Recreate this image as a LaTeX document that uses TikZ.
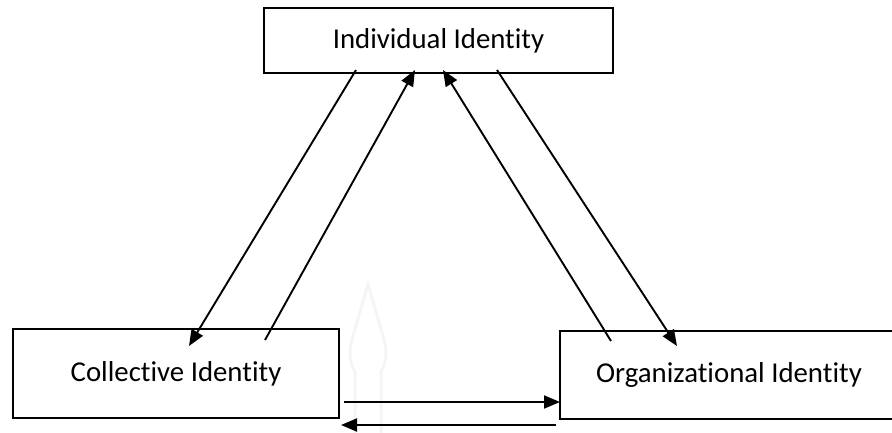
\documentclass[tikz,border=0pt]{standalone}
\usepackage{fontspec}
\setmainfont{Carlito}[Ligatures={NoCommon}]
\usetikzlibrary{arrows.meta,calc}
\begin{document}
\begin{tikzpicture}[x=1pt,y=-1pt,
  idbox/.style={draw,line width=2pt,rectangle,inner sep=0pt,
    font=\fontsize{28.8}{34}\selectfont},
  link/.style={line width=1.9pt,-{Triangle[length=16pt,width=13pt]}},
  emblem/.style={draw=black!4,line width=3pt,line join=round}]
\useasboundingbox (0,0) rectangle (892,432);
\clip (0,0) rectangle (892,432);

% faint spire emblem behind the lower connectors
\draw[emblem] (355,440) -- (355,372) .. controls (349,362) and (349,350) .. (352,340)
  .. controls (357,320) and (364,300) .. (368,283)
  .. controls (372,300) and (379,320) .. (384,340)
  .. controls (387,350) and (387,362) .. (381,372) -- (381,440);

% identity boxes
\node[idbox,minimum width=349pt,minimum height=65pt] (ind) at (438.5,40.5) {Individual Identity};
\node[idbox,minimum width=326pt,minimum height=89pt] (col) at (176,373.5) {Collective Identity};
\node[idbox,minimum width=338pt,minimum height=88pt] (org) at (729,375) {Organizational Identity};

% connector end points on the box edges
\coordinate (i1) at ($(ind.south west)+(93,-4)$);
\coordinate (i2) at ($(ind.south west)+(152,-4)$);
\coordinate (i3) at ($(ind.south west)+(180,-4)$);
\coordinate (i4) at ($(ind.south west)+(234,-4)$);
\coordinate (c1) at ($(col.north west)+(177,18)$);
\coordinate (c2) at ($(col.north west)+(253,12)$);
\coordinate (o1) at ($(org.north west)+(52,11)$);
\coordinate (o2) at ($(org.north west)+(118,16)$);
\coordinate (c3) at ($(col.north east)+(4,74)$);
\coordinate (c4) at ($(col.north east)+(1,97)$);
\coordinate (o3) at ($(org.north west)+(1,72)$);
\coordinate (o4) at ($(org.north west)+(-3,95)$);

% links between the three identities
\draw[link] (i1) -- (c1);
\draw[link] (c2) -- (i2);
\draw[link] (o1) -- (i3);
\draw[link] (i4) -- (o2);
\draw[link] (c3) -- (o3);
\draw[link] (o4) -- (c4);
\end{tikzpicture}
\end{document}
